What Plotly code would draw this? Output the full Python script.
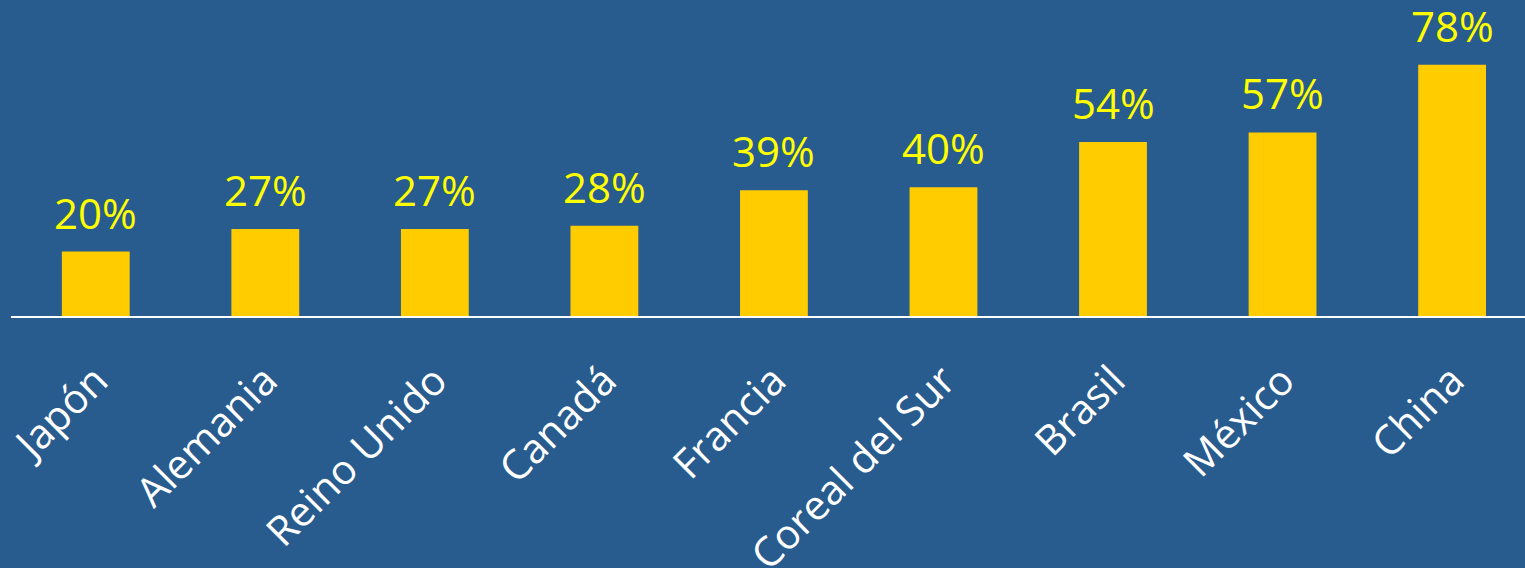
import plotly.graph_objects as go

categories = ["Japón", "Alemania", "Reino Unido", "Canadá", "Francia",
              "Coreal del Sur", "Brasil", "México", "China"]
values = [20, 27, 27, 28, 39, 40, 54, 57, 78]
labels = ["20%", "27%", "27%", "28%", "39%", "40%", "54%", "57%", "78%"]

BG = "#285B8E"
BAR = "#FFCC00"
LBL = "#FFFF00"
FONT = "Open Sans"

fig = go.Figure(go.Bar(
    x=categories, y=values,
    marker=dict(color=BAR, line=dict(width=0)),
    hoverinfo="skip",
))

for c, v, t in zip(categories, values, labels):
    fig.add_annotation(x=c, y=v, text=t, showarrow=False, yanchor="bottom",
                       yshift=9, font=dict(family=FONT, size=42, color=LBL))

fig.update_layout(
    width=1525, height=568,
    paper_bgcolor=BG, plot_bgcolor=BG,
    margin=dict(l=11, r=0, t=0, b=252, autoexpand=False),
    bargap=0.6,
    showlegend=False,
    xaxis=dict(
        range=[-0.5, 8.43],
        automargin=False,
        showline=True, linecolor="white", linewidth=2,
        showgrid=False, zeroline=False,
        tickangle=-45,
        ticks="outside", ticklen=0,
        ticklabelstandoff=22,
        tickfont=dict(family=FONT, size=41, color="white"),
    ),
    yaxis=dict(range=[0, 98.1], visible=False, showgrid=False, zeroline=False,
               automargin=False),
)

fig.write_html("out.html", config={"displayModeBar": False},
               post_script="document.body.style.margin='0';document.body.style.background='" + BG + "';")
